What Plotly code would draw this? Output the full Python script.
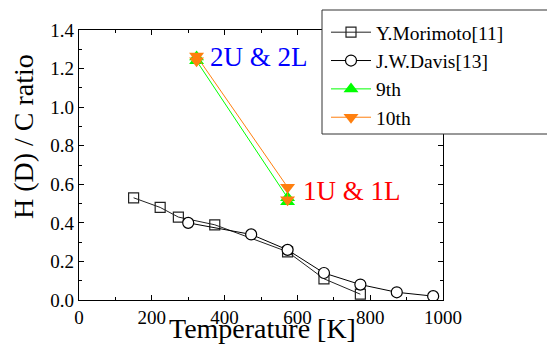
import plotly.graph_objects as go

# Data
mori_x = [150, 223, 273, 373, 573, 673, 773]
mori_y = [0.53, 0.48, 0.43, 0.39, 0.25, 0.11, 0.03]
davis_x = [300, 473, 573, 673, 773, 873, 973]
davis_y = [0.40, 0.34, 0.26, 0.14, 0.08, 0.04, 0.02]
n9_x = [323, 323, 573, 573]
n9_y = [1.26, 1.24, 0.53, 0.51]
n10_x = [323, 323, 573, 573]
n10_y = [1.24, 1.265, 0.585, 0.52]

FONT = "Liberation Serif, Times New Roman, serif"
L, R, T, B = 79, 104, 30, 45
W, H = 547, 345
PW = W - L - R
PH = H - T - B

def px_x(p):
    return (p - L) / PW

def px_y(p):
    return (H - B - p) / PH

fig = go.Figure()
fig.add_trace(go.Scatter(
    x=mori_x, y=mori_y, mode="lines+markers", name="Y.Morimoto[11]",
    line=dict(color="#222222", width=1),
    marker=dict(symbol="square-open", size=10, color="#222222", line=dict(width=1.2))))
fig.add_trace(go.Scatter(
    x=davis_x, y=davis_y, mode="lines+markers", name="J.W.Davis[13]",
    line=dict(color="black", width=1),
    marker=dict(symbol="circle", size=11, color="white", line=dict(color="black", width=1.2))))
fig.add_trace(go.Scatter(
    x=n9_x, y=n9_y, mode="lines+markers", name="9th",
    line=dict(color="#00FF00", width=1),
    marker=dict(symbol="triangle-up", size=13, color="#00FF00", line=dict(width=0))))
fig.add_trace(go.Scatter(
    x=n10_x, y=n10_y, mode="lines+markers", name="10th",
    line=dict(color="#FF7F0E", width=1),
    marker=dict(symbol="triangle-down", size=13, color="#FF7F0E", line=dict(width=0))))

axis_common = dict(
    showline=True, linecolor="black", linewidth=1.3, mirror="ticks",
    ticks="inside", ticklen=5, tickwidth=1, tickcolor="black",
    showgrid=False, zeroline=False,
    tickfont=dict(family=FONT, size=19, color="black"),
)
fig.update_xaxes(range=[0, 1000], tick0=0, dtick=200,
                 minor=dict(ticks="inside", ticklen=3, dtick=100, tickcolor="black"),
                 **axis_common)
fig.update_yaxes(range=[0, 1.4], tick0=0, dtick=0.2, tickformat=".1f",
                 minor=dict(ticks="inside", ticklen=3, dtick=0.1, tickcolor="black"),
                 **axis_common)

# Legend box
fig.add_shape(type="rect", xref="paper", yref="paper",
              x0=px_x(322), x1=px_x(600), y0=px_y(134), y1=px_y(10),
              line=dict(color="#333333", width=1), fillcolor="white", layer="above")

fig.update_layout(
    width=W, height=H,
    margin=dict(l=L, r=R, t=T, b=B),
    paper_bgcolor="white", plot_bgcolor="white",
    font=dict(family=FONT, color="black"),
    legend=dict(x=px_x(326), y=px_y(13), xanchor="left", yanchor="top",
                bgcolor="rgba(0,0,0,0)", borderwidth=0,
                font=dict(family=FONT, size=19.5, color="black"),
                tracegroupgap=0, itemwidth=40),
    annotations=[
        dict(text="2U &amp; 2L", x=px_x(208), y=px_y(57), xref="paper", yref="paper",
             xanchor="left", yanchor="middle", showarrow=False,
             font=dict(family=FONT, size=27, color="#0000FF")),
        dict(text="1U &amp; 1L", x=px_x(301), y=px_y(191), xref="paper", yref="paper",
             xanchor="left", yanchor="middle", showarrow=False,
             font=dict(family=FONT, size=27, color="#FF0000")),
        dict(text="Temperature [K]", x=px_x(262), y=px_y(328), xref="paper", yref="paper",
             xanchor="center", yanchor="middle", showarrow=False,
             font=dict(family=FONT, size=28, color="black")),
        dict(text="H (D) / C ratio", x=px_x(23), y=px_y(137), xref="paper", yref="paper",
             xanchor="center", yanchor="middle", showarrow=False, textangle=-90,
             font=dict(family=FONT, size=28, color="black")),
    ],
)

fig.write_html("out.html")
